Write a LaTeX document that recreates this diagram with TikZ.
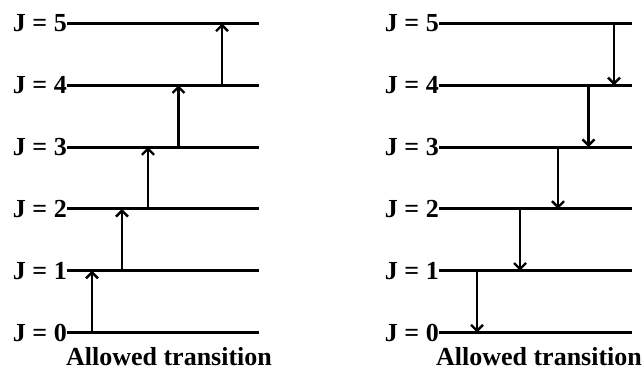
\documentclass[tikz,border=0pt]{standalone}
\usepackage{fontspec}
\setmainfont{Liberation Serif}
\usetikzlibrary{arrows.meta}
\begin{document}
\begin{tikzpicture}[x=1pt,y=-1pt,
  level/.style={line width=3pt},
  trans/.style={line width=2.4pt,-{Straight Barb[length=6pt,width=12pt,line width=2.4pt]}},
  jlabel/.style={anchor=base east,font=\bfseries\fontsize{26}{26}\selectfont,inner sep=0pt},
  caption/.style={anchor=base,font=\bfseries\fontsize{26}{26}\selectfont,inner sep=0pt}]
\useasboundingbox (0,0) rectangle (644,371);
% levels
\foreach \j/\y in {0/332.5,1/270.7,2/208.9,3/147.1,4/85.3,5/23.5}{
  \coordinate (Ls\j) at (67,\y);
  \coordinate (Le\j) at (259,\y);
  \coordinate (Rs\j) at (439,\y);
  \coordinate (Re\j) at (632,\y);
  \draw[level] (Ls\j) -- (Le\j);
  \draw[level] (Rs\j) -- (Re\j);
  \node[jlabel] (jl\j) at ([yshift=-8.5pt]Ls\j) {J = \j};
  \node[jlabel] (jr\j) at ([yshift=-8.5pt]Rs\j) {J = \j};
}
% absorption (left)
\foreach \a/\b/\x in {0/1/92,1/2/122,2/3/148,3/4/178.5,4/5/222}{
  \coordinate (ua\a) at (\x,0 |- Ls\a);
  \coordinate (ub\a) at (\x,0 |- Ls\b);
  \draw[trans] (ua\a) -- (ub\a);
}
% emission (right)
\foreach \a/\b/\x in {5/4/614,4/3/588.5,3/2/558,2/1/520,1/0/477}{
  \coordinate (da\a) at (\x,0 |- Rs\a);
  \coordinate (db\a) at (\x,0 |- Rs\b);
  \draw[trans] (da\a) -- (db\a);
}
\node[caption] (capL) at (169,365.5) {Allowed transition};
\node[caption] (capR) at (539,365.5) {Allowed transition};
\end{tikzpicture}
\end{document}
